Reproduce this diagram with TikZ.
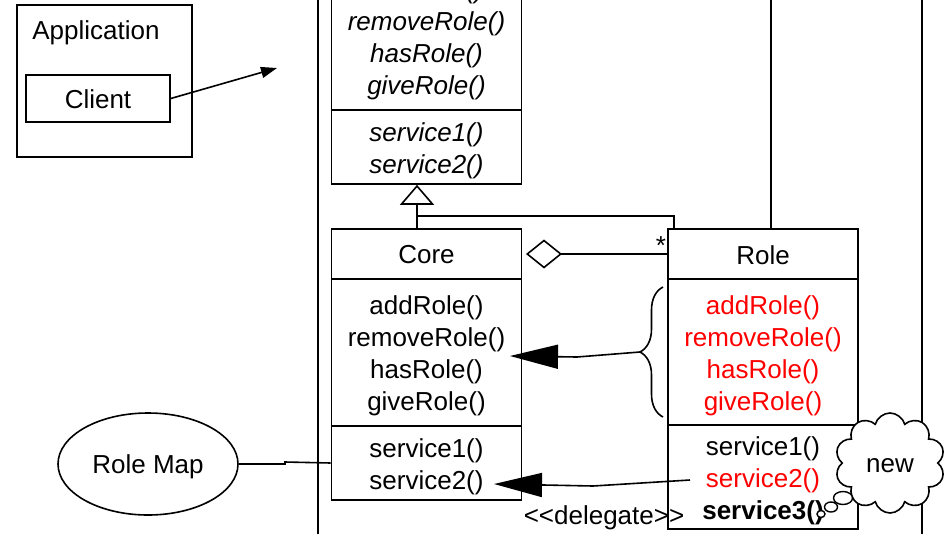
\documentclass[tikz,border=0pt]{standalone}
\usepackage{fontspec}
\setmainfont{Liberation Sans}
\usetikzlibrary{arrows.meta,shapes.geometric,shapes.symbols,decorations.pathreplacing}

\tikzset{
  lw/.style={line width=1.6pt},
  part/.style={draw, lw, minimum width=190pt, inner sep=0pt},
  txt/.style={font=\fontsize{26}{32}\selectfont, align=center, inner sep=0pt},
  partxt/.style={txt, yshift=-3.5pt},
  abstxt/.style={partxt, font=\fontsize{26}{32}\selectfont\itshape},
  bubble/.style={draw, fill=white, ellipse, inner sep=0pt, line width=1.4pt},
  bigtip/.style={-{Triangle[length=48pt,width=24pt]}}
}

\begin{document}
\begin{tikzpicture}[x=1pt, y=-1pt, lw]
    \useasboundingbox (0, 0) rectangle (944, 533);
    \clip (0, 0) rectangle (944, 533);

    % frame
    \draw (318, -5) -- (318, 540);
    \draw (922, -5) -- (922, 540);

    % application
    \node [draw, lw, minimum width=175pt, minimum height=152pt] (app) at (104.5, 81) {};
    \node [txt] (apptitle) at (96, 33) {Application};
    \node [part, minimum width=144pt, minimum height=47pt] (client) at (98, 98.5) {};
    \node [txt, yshift=-1pt] (clienttxt) at (client) {Client};
    \coordinate (clientaim) at (277, 68);
    \draw [-{Triangle[length=16pt,width=11pt]}] (client.east) -- (clientaim);

    % abstract role
    \node [part, minimum height=148pt] (topmeth) at (426.5, 36) {};
    \node [abstxt] (topmethtxt) at (topmeth) {addRole()\\removeRole()\\hasRole()\\giveRole()};
    \node [part, minimum height=74pt] (topserv) at (426.5, 147) {};
    \node [abstxt] (topservtxt) at (topserv) {service1()\\service2()};

    % core
    \node [part, minimum height=50pt] (corehead) at (426.5, 254) {};
    \node [txt, yshift=-1pt] (coretxt) at (corehead) {Core};
    \node [part, minimum height=147pt] (coremeth) at (426.5, 352.5) {};
    \node [partxt] (coremethtxt) at (coremeth) {addRole()\\removeRole()\\hasRole()\\giveRole()};
    \node [part, minimum height=74pt] (coreserv) at (426.5, 463) {};
    \node [partxt] (coreservtxt) at (coreserv) {service1()\\service2()};

    % role
    \node [part, minimum height=50pt] (rolehead) at (763, 254) {};
    \node [txt, yshift=-1pt] (roletxt) at (rolehead) {Role};
    \node [part, minimum height=146pt] (rolemeth) at (763, 352) {};
    \node [partxt, text=red, yshift=-0.5pt] (rolemethtxt) at (rolemeth) {addRole()\\removeRole()\\hasRole()\\giveRole()};
    \node [part, minimum height=104pt] (roleserv) at (763, 477) {};
    \node [partxt] (roleservtxt) at (roleserv) {service1()\\\textcolor{red}{service2()}\\\textbf{service3()}};

    \draw ([xshift=8pt]rolehead.north) -- ++(0, -240);

    % generalization
    \coordinate (inh) at (417, 216);
    \coordinate (bend) at (674, 216);
    \draw [-{Triangle[open,length=20pt,width=34pt]}] (corehead.north -| inh) -- (topserv.south -| inh);
    \draw (inh) -- (bend) -- (bend |- rolehead.north);

    % aggregation
    \coordinate (aggend) at (526, 254);
    \draw [{Diamond[open,length=36pt,width=29pt]}-] (aggend) -- (rolehead.west);
    \node [txt] (many) at (661, 246) {*};

    % delegation of role methods
    \draw [decorate, decoration={brace, amplitude=23pt, mirror}] (663, 287) -- (663, 417);
    \coordinate (bracetip) at (640, 352);
    \coordinate (coreaim) at (510, 356);
    \draw [bigtip] (bracetip) -- (577, 357) -- (coreaim);

    % delegation of services
    \coordinate (roleserv2) at (690, 480);
    \coordinate (coreserv2) at (494, 484);
    \draw [bigtip] (roleserv2) -- (593, 486) -- (coreserv2);
    \node [txt] (deleg) at (604, 518) {<{}<delegate>{}>};

    % role map
    \node [draw, ellipse, minimum width=180pt, minimum height=102pt] (rolemap) at (148, 464) {};
    \node [txt, yshift=-2.5pt] (rolemaptxt) at (rolemap) {Role Map};
    \draw (rolemap.east) -- (285, 464) -- (285, 462) -- (coreserv.west);

    % note
    \node [cloud, draw, fill=white, cloud puffs=10, aspect=1.1,
      minimum width=110pt, minimum height=100pt] (newnote) at (890, 463) {};
    \node [txt, yshift=-2.5pt] (newtxt) at (newnote) {new};
    \node [bubble, minimum width=19pt, minimum height=13pt] (bubble1) at (843, 498) {};
    \node [bubble, minimum width=13pt, minimum height=10pt] (bubble2) at (831, 507) {};
    \node [bubble, minimum width=8pt, minimum height=7pt] (bubble3) at (821, 514) {};
  \end{tikzpicture}
\end{document}
